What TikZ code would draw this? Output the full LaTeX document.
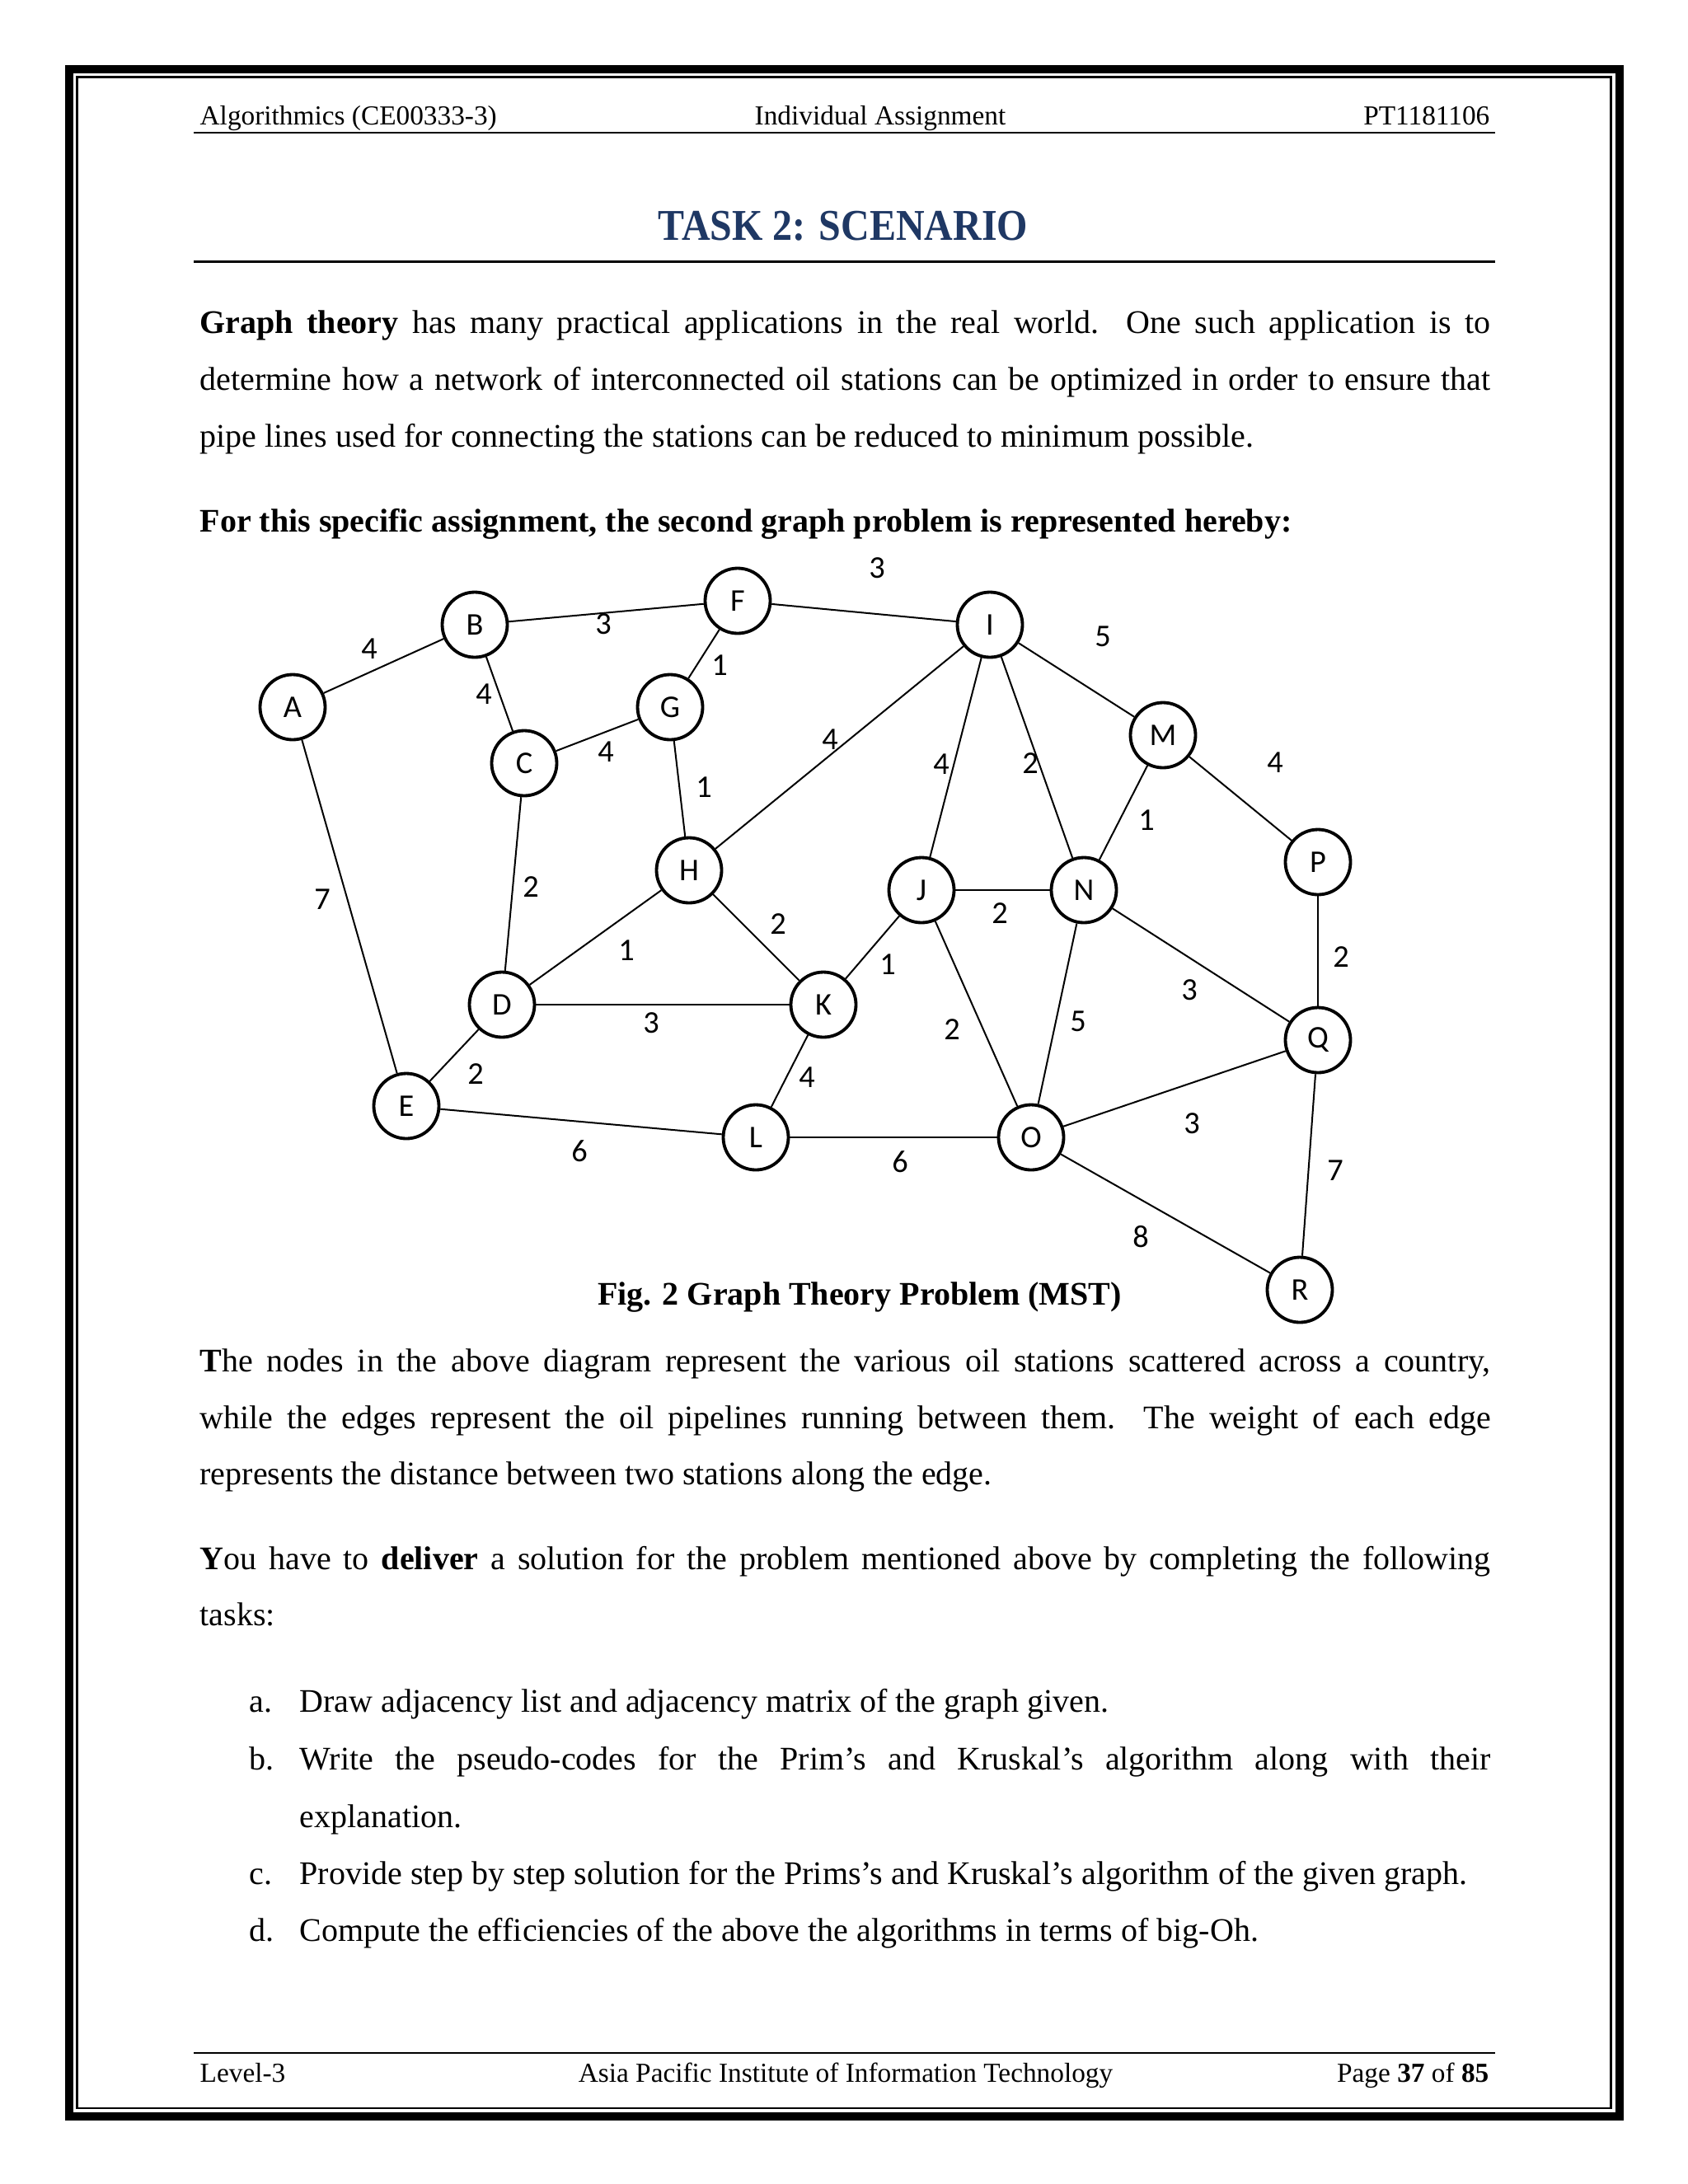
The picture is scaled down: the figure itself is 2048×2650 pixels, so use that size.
\documentclass[tikz,border=0pt]{standalone}
\usepackage{fontspec}
\usepackage{graphicx}
\setmainfont{Liberation Serif}
\newfontfamily\calfont{Carlito}
\definecolor{titleblue}{RGB}{31,56,100}
\begin{document}
\begin{tikzpicture}[x=0.3pt,y=-0.3pt,
  station/.style={circle,draw,line width=1.15pt,minimum size=23.7pt,inner sep=0pt,font=\calfont\fontsize{11.5pt}{13pt}\selectfont},
  pipe/.style={line width=0.6pt},
  wlabel/.style={inner sep=0pt,font=\calfont\fontsize{11.5pt}{13pt}\selectfont},
  hdr/.style={inner sep=0pt,font=\fontsize{10pt}{12pt}\selectfont},
  bodyline/.style={anchor=base west,inner sep=0pt,font=\fontsize{12pt}{14pt}\selectfont},
  rulestyle/.style={line width=0.75pt}
]
\useasboundingbox (0,0) rectangle (2048,2650);
\fill[white] (0,0) rectangle (2048,2650);
% page border
\draw[line width=3pt] (84,84) rectangle (1965,2568);
\draw[line width=0.75pt] (93.5,93.5) rectangle (1954.5,2558);
% header
\node[hdr,anchor=base west] (h1) at (242,151) {Algorithmics (CE00333-3)};
\node[hdr,anchor=base] (h2) at (1068,151) {Individual Assignment};
\node[hdr,anchor=base east] (h3) at (1808,151) {PT1181106};
\draw[rulestyle] (235,161) -- (1814,161);
% title
\node[inner sep=0pt,anchor=base,text=titleblue,font=\bfseries\fontsize{16pt}{18pt}\selectfont] (title) at (1023,291) {\scalebox{0.9}[1]{TASK 2: SCENARIO}};
\draw[rulestyle] (235,317.5) -- (1814,317.5);
% paragraph 1
\node[bodyline] (p1) at (242,404) {\makebox[469.8pt][s]{\textbf{Graph theory} has many practical applications in the real world. One such application is to}};
\node[bodyline] (p2) at (242,473) {\makebox[469.8pt][s]{determine how a network of interconnected oil stations can be optimized in order to ensure that}};
\node[bodyline] (p3) at (242,542) {pipe lines used for connecting the stations can be reduced to minimum possible.};
\node[bodyline] (p4) at (242,645) {\textbf{For this specific assignment, the second graph problem is represented hereby:}};
% graph
\node[station] (A) at (355,858) {A};
\node[station] (B) at (576,758) {B};
\node[station] (F) at (895,729) {F};
\node[station] (I) at (1201,758) {I};
\node[station] (G) at (813,858) {G};
\node[station] (C) at (636,926) {C};
\node[station] (M) at (1411,892) {M};
\node[station] (P) at (1599,1046) {P};
\node[station] (H) at (836,1056) {H};
\node[station] (J) at (1118,1080) {J};
\node[station] (N) at (1315,1080) {N};
\node[station] (D) at (609,1219) {D};
\node[station] (K) at (999,1219) {K};
\node[station] (Q) at (1599,1262) {Q};
\node[station] (E) at (493,1342) {E};
\node[station] (L) at (917,1380) {L};
\node[station] (O) at (1251,1380) {O};
\node[station] (R) at (1577,1565) {R};
\draw[pipe] (A) -- (B);
\draw[pipe] (A) -- (E);
\draw[pipe] (B) -- (F);
\draw[pipe] (B) -- (C);
\draw[pipe] (F) -- (I);
\draw[pipe] (F) -- (G);
\draw[pipe] (C) -- (G);
\draw[pipe] (C) -- (D);
\draw[pipe] (G) -- (H);
\draw[pipe] (H) -- (I);
\draw[pipe] (H) -- (D);
\draw[pipe] (H) -- (K);
\draw[pipe] (D) -- (K);
\draw[pipe] (D) -- (E);
\draw[pipe] (E) -- (L);
\draw[pipe] (K) -- (L);
\draw[pipe] (K) -- (J);
\draw[pipe] (L) -- (O);
\draw[pipe] (I) -- (J);
\draw[pipe] (I) -- (N);
\draw[pipe] (I) -- (M);
\draw[pipe] (M) -- (N);
\draw[pipe] (M) -- (P);
\draw[pipe] (J) -- (N);
\draw[pipe] (J) -- (O);
\draw[pipe] (N) -- (O);
\draw[pipe] (N) -- (Q);
\draw[pipe] (P) -- (Q);
\draw[pipe] (O) -- (Q);
\draw[pipe] (Q) -- (R);
\draw[pipe] (O) -- (R);
% weights
\node[wlabel] (wAB) at (448,787) {4};
\node[wlabel] (wBF) at (732,757) {3};
\node[wlabel] (wFI) at (1064,689) {3};
\node[wlabel] (wFG) at (873,807) {1};
\node[wlabel] (wBC) at (587,842) {4};
\node[wlabel] (wCG) at (735,912) {4};
\node[wlabel] (wGH) at (854,955) {1};
\node[wlabel] (wHI) at (1007,897) {4};
\node[wlabel] (wIM) at (1338,772) {5};
\node[wlabel] (wIJ) at (1142,927) {4};
\node[wlabel] (wIN) at (1250,926) {2};
\node[wlabel] (wMP) at (1547,925) {4};
\node[wlabel] (wMN) at (1391,995) {1};
\node[wlabel] (wAE) at (391,1091) {7};
\node[wlabel] (wCD) at (644,1076) {2};
\node[wlabel] (wHK) at (944,1121) {2};
\node[wlabel] (wJN) at (1213,1108) {2};
\node[wlabel] (wPQ) at (1627,1161) {2};
\node[wlabel] (wDH) at (760,1153) {1};
\node[wlabel] (wJK) at (1077,1170) {1};
\node[wlabel] (wNQ) at (1443,1201) {3};
\node[wlabel] (wDK) at (790,1241) {3};
\node[wlabel] (wJO) at (1155,1249) {2};
\node[wlabel] (wNO) at (1308,1239) {5};
\node[wlabel] (wDE) at (577,1303) {2};
\node[wlabel] (wKL) at (979,1307) {4};
\node[wlabel] (wOQ) at (1446,1363) {3};
\node[wlabel] (wEL) at (703,1397) {6};
\node[wlabel] (wLO) at (1092,1410) {6};
\node[wlabel] (wQR) at (1620,1420) {7};
\node[wlabel] (wOR) at (1384,1501) {8};
% caption
\node[inner sep=0pt,anchor=base,font=\bfseries\fontsize{12pt}{14pt}\selectfont] (cap) at (1043,1583) {Fig. 2 Graph Theory Problem (MST)};
% paragraph 2
\node[bodyline] (q1) at (242,1664) {\makebox[469.8pt][s]{\textbf{T}he nodes in the above diagram represent the various oil stations scattered across a country,}};
\node[bodyline] (q2) at (242,1733) {\makebox[469.8pt][s]{while the edges represent the oil pipelines running between them. The weight of each edge}};
\node[bodyline] (q3) at (242,1801) {represents the distance between two stations along the edge.};
% paragraph 3
\node[bodyline] (r1) at (242,1904) {\makebox[469.8pt][s]{\textbf{Y}ou have to \textbf{deliver} a solution for the problem mentioned above by completing the following}};
\node[bodyline] (r2) at (242,1972) {tasks:};
% list
\node[bodyline] (la) at (302,2077) {a.};
\node[bodyline] (ta) at (363,2077) {Draw adjacency list and adjacency matrix of the graph given.};
\node[bodyline] (lb) at (302,2147) {b.};
\node[bodyline] (tb) at (363,2147) {\makebox[433.5pt][s]{Write the pseudo-codes for the Prim’s and Kruskal’s algorithm along with their}};
\node[bodyline] (tb2) at (363,2217) {explanation.};
\node[bodyline] (lc) at (302,2286) {c.};
\node[bodyline] (tc) at (363,2286) {Provide step by step solution for the Prims’s and Kruskal’s algorithm of the given graph.};
\node[bodyline] (ld) at (302,2355) {d.};
\node[bodyline] (td) at (363,2355) {Compute the efficiencies of the above the algorithms in terms of big-Oh.};
% footer
\draw[rulestyle] (235,2491) -- (1814,2491);
\node[hdr,anchor=base west] (f1) at (242,2526) {Level-3};
\node[hdr,anchor=base] (f2) at (1026,2526) {Asia Pacific Institute of Information Technology};
\node[hdr,anchor=base east] (f3) at (1807,2526) {Page \textbf{37} of \textbf{85}};
\end{tikzpicture}
\end{document}
